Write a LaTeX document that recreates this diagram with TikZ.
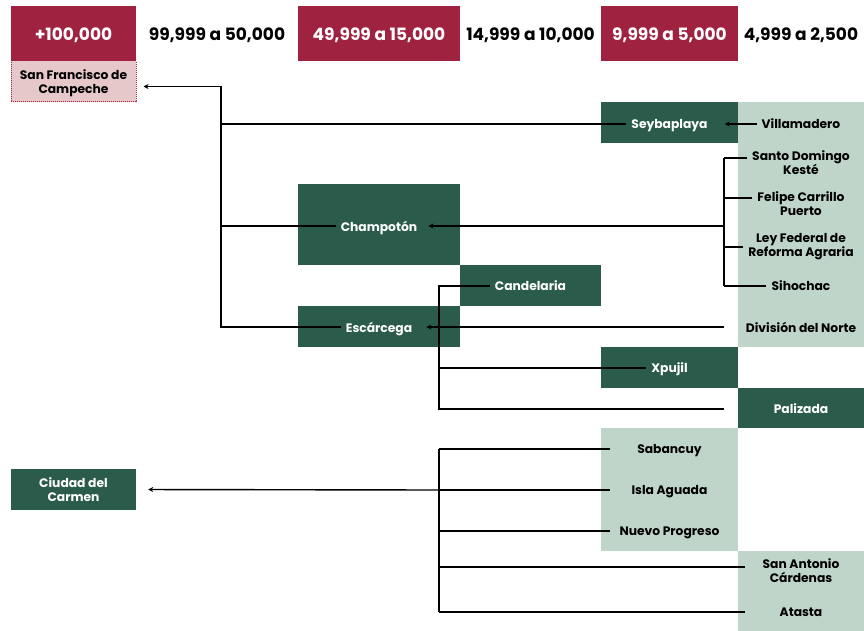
\documentclass[tikz,border=0pt]{standalone}
\usepackage{fontspec}
\setmainfont{Poppins}
\usepackage{xcolor}
\usetikzlibrary{arrows.meta}

\definecolor{guinda}{HTML}{9F2241}
\definecolor{verde}{HTML}{2B5C4B}
\definecolor{verdeclaro}{HTML}{BFD5C9}
\definecolor{rosa}{HTML}{E6C8CB}

\begin{document}
\begin{tikzpicture}[x=1pt,y=-1pt,
    lbl/.style={font=\bfseries\fontsize{12.3}{14}\selectfont, align=center,
      inner sep=5pt, text depth=0pt},
    head/.style={font=\bfseries\fontsize{17}{19}\selectfont, inner sep=3pt,
      text depth=0pt},
    boxed/.style={lbl, minimum width=125pt, minimum height=41pt},
    wire/.style={line width=1.4pt},
    arr/.style={wire, -{Stealth[length=5pt,width=5pt]}},
    into/.style={shorten >=#1}, into/.default=6pt]

  \useasboundingbox (0,0) rectangle (864,631);

  % coloured cells, top left / bottom right / colour
  \foreach \xa/\ya/\xb/\yb/\c in {
    11/6/136/61/guinda, 298/6/460/61/guinda, 601/6/738/61/guinda,
    601/102/738/143/verde, 298/184/460/265/verde, 460/265/601/306/verde,
    298/306/460/347/verde, 601/347/738/388/verde, 738/388/864/428/verde,
    738/102/864/347/verdeclaro, 601/428/738/551/verdeclaro,
    738/551/864/631/verdeclaro%
  } {
    \fill [\c] (\xa,\ya) rectangle (\xb,\yb);
  }

  % population ranges
  \foreach \n/\x/\c/\t in {
    h-1/73.5/white/{+100,000}, h-2/217/black/{99,999 a 50,000},
    h-3/379/white/{49,999 a 15,000}, h-4/530.5/black/{14,999 a 10,000},
    h-5/669.5/white/{9,999 a 5,000}, h-6/801/black/{4,999 a 2,500}%
  } {
    \node [head, text=\c] (\n) at (\x,34) {\t};
  }

  % the two boxes on the left
  \node [boxed, fill=rosa, draw=guinda, densely dotted, line width=1pt]
    (campeche) at (73.5,81.5) {San Francisco de\\Campeche};
  \node [boxed, fill=verde, text=white] (carmen) at (73.5,489.5) {Ciudad del\\Carmen};

  % the other towns
  \foreach \n/\x/\y/\c/\t in {
    seyba/669.5/124/white/Seybaplaya, villa/801/124/black/Villamadero,
    champ/379/226/white/Champotón, sdk/801/163/black/{Santo Domingo\\Kesté},
    fcp/801/204/black/{Felipe Carrillo\\Puerto},
    lfra/801/245/black/{Ley Federal de\\Reforma Agraria},
    siho/801/286/black/Sihochac, divn/801/327/black/División del Norte,
    cand/530.5/286/white/Candelaria, esca/379/327/white/Escárcega,
    xpu/669.5/368/white/Xpujil, pali/801/409/white/Palizada,
    saba/669.5/449/black/Sabancuy, isla/669.5/490/black/Isla Aguada,
    nuevo/669.5/531/black/Nuevo Progreso,
    sanan/801/571/black/{San Antonio\\Cárdenas}, atasta/801/612/black/Atasta%
  } {
    \node [lbl, text=\c] (\n) at (\x,\y) {\t};
  }

  % x of the vertical buses and of the stub ends
  \coordinate (busA) at (221,0);
  \coordinate (busB) at (724,0);
  \coordinate (busC) at (439,0);
  \coordinate (endA) at (610,0);
  \coordinate (endB) at (745,0);

  % into Campeche
  \draw [arr, into=7pt] (seyba.west) -- (busA |- seyba) |- ([yshift=-5pt]campeche.east);
  \draw [wire] (champ.west) -- (champ.west -| busA);
  \draw [wire] (esca.west) -| (busA |- seyba);
  \draw [arr, into=12pt] (villa.west) -- (seyba.east);

  % into Champoton
  \foreach \n/\d in {sdk/5, fcp/6, lfra/-2, siho/0} {
    \path ([yshift=\d pt]\n.west) coordinate (t-\n);
    \draw [wire] (t-\n) -- (t-\n -| busB);
  }
  \draw [wire] (t-sdk -| busB) -- (t-siho -| busB);
  \draw [arr, into] (busB |- champ) -- (champ.east);

  % into Escarcega
  \draw [arr, into=9pt] (busB |- divn) -- (esca.east);
  \draw [wire] (cand.west) -| (busC |- pali) -- (busB |- pali);
  \draw [wire] (xpu.west) -- (xpu.west -| busC);

  % into Ciudad del Carmen
  \foreach \n/\e/\d in {saba/endA/0, isla/endA/0, nuevo/endA/0, sanan/endB/4, atasta/endB/0} {
    \path ([yshift=\d pt]\n.west) coordinate (t-\n);
    \draw [wire] (t-\n -| \e) -- (t-\n -| busC);
  }
  \draw [wire] (t-saba -| busC) -- (t-atasta -| busC);
  \draw [arr, into=12pt] (t-isla -| busC) -- (carmen.east);

\end{tikzpicture}
\end{document}
